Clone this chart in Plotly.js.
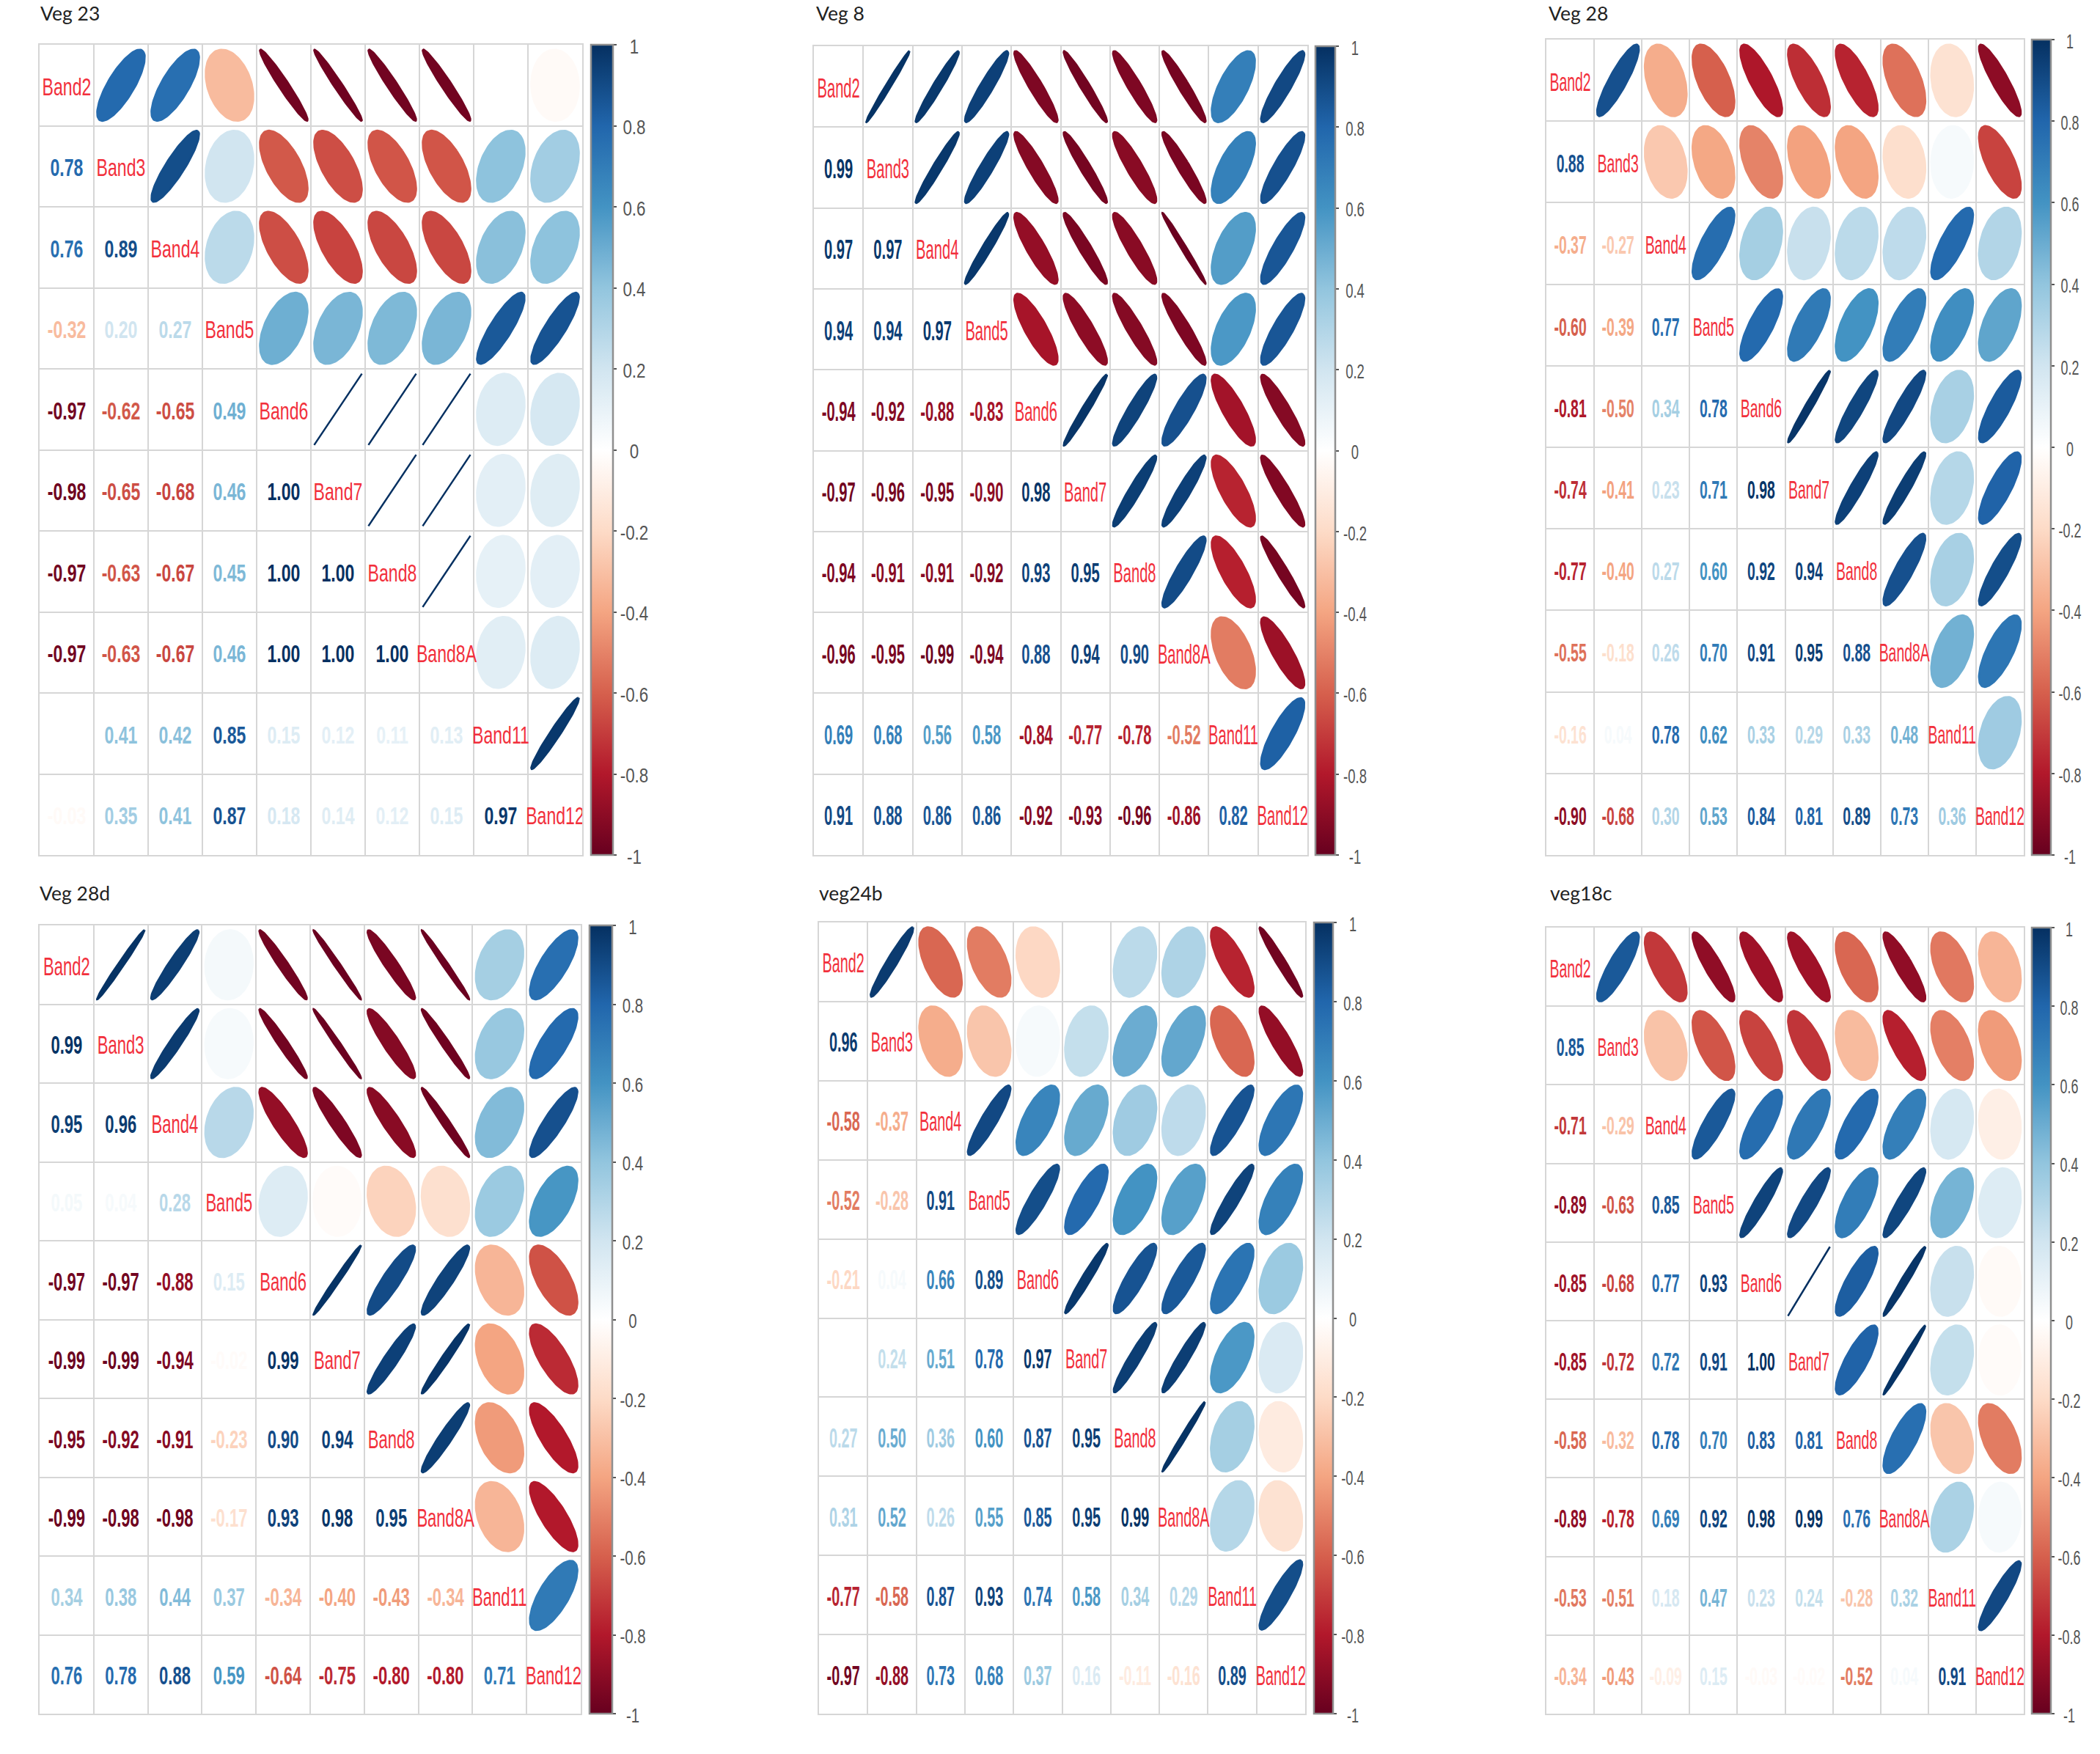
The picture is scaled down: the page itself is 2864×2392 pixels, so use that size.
<!DOCTYPE html>
<html>
<head>
<meta charset="utf-8">
<script src="https://cdn.plot.ly/plotly-3.0.1.min.js"></script>
<style>html,body{margin:0;padding:0;background:#fff}#chart{width:2864px;height:2392px}</style>
</head>
<body>
<div id="chart"></div>
<script>
// ---- data: lower triangle of each correlation matrix
const bands = ["Band2","Band3","Band4","Band5","Band6","Band7","Band8","Band8A","Band11","Band12"];
const veg23 = [
  [0.78],
  [0.76,0.89],
  [-0.32,0.20,0.27],
  [-0.97,-0.62,-0.65,0.49],
  [-0.98,-0.65,-0.68,0.46,1.00],
  [-0.97,-0.63,-0.67,0.45,1.00,1.00],
  [-0.97,-0.63,-0.67,0.46,1.00,1.00,1.00],
  [0.00,0.41,0.42,0.85,0.15,0.12,0.11,0.13],
  [-0.03,0.35,0.41,0.87,0.18,0.14,0.12,0.15,0.97]
];
const veg8 = [
  [0.99],
  [0.97,0.97],
  [0.94,0.94,0.97],
  [-0.94,-0.92,-0.88,-0.83],
  [-0.97,-0.96,-0.95,-0.90,0.98],
  [-0.94,-0.91,-0.91,-0.92,0.93,0.95],
  [-0.96,-0.95,-0.99,-0.94,0.88,0.94,0.90],
  [0.69,0.68,0.56,0.58,-0.84,-0.77,-0.78,-0.52],
  [0.91,0.88,0.86,0.86,-0.92,-0.93,-0.96,-0.86,0.82]
];
const veg28 = [
  [0.88],
  [-0.37,-0.27],
  [-0.60,-0.39,0.77],
  [-0.81,-0.50,0.34,0.78],
  [-0.74,-0.41,0.23,0.71,0.98],
  [-0.77,-0.40,0.27,0.60,0.92,0.94],
  [-0.55,-0.18,0.26,0.70,0.91,0.95,0.88],
  [-0.16,0.04,0.78,0.62,0.33,0.29,0.33,0.48],
  [-0.90,-0.68,0.30,0.53,0.84,0.81,0.89,0.73,0.36]
];
const veg28d = [
  [0.99],
  [0.95,0.96],
  [0.05,0.04,0.28],
  [-0.97,-0.97,-0.88,0.15],
  [-0.99,-0.99,-0.94,-0.02,0.99],
  [-0.95,-0.92,-0.91,-0.23,0.90,0.94],
  [-0.99,-0.98,-0.98,-0.17,0.93,0.98,0.95],
  [0.34,0.38,0.44,0.37,-0.34,-0.40,-0.43,-0.34],
  [0.76,0.78,0.88,0.59,-0.64,-0.75,-0.80,-0.80,0.71]
];
const veg24b = [
  [0.96],
  [-0.58,-0.37],
  [-0.52,-0.28,0.91],
  [-0.21,0.04,0.66,0.89],
  [0.00,0.24,0.51,0.78,0.97],
  [0.27,0.50,0.36,0.60,0.87,0.95],
  [0.31,0.52,0.26,0.55,0.85,0.95,0.99],
  [-0.77,-0.58,0.87,0.93,0.74,0.58,0.34,0.29],
  [-0.97,-0.88,0.73,0.68,0.37,0.16,-0.11,-0.16,0.89]
];
const veg18c = [
  [0.85],
  [-0.71,-0.29],
  [-0.89,-0.63,0.85],
  [-0.85,-0.68,0.77,0.93],
  [-0.85,-0.72,0.72,0.91,1.00],
  [-0.58,-0.32,0.78,0.70,0.83,0.81],
  [-0.89,-0.78,0.69,0.92,0.98,0.99,0.76],
  [-0.53,-0.51,0.18,0.47,0.23,0.24,-0.28,0.32],
  [-0.34,-0.43,-0.09,0.15,-0.03,-0.02,-0.52,0.04,0.91]
];
const titles = ["Veg 23","Veg 8","Veg 28","Veg 28d","veg24b","veg18c"];
const matrices = [veg23,veg8,veg28,veg28d,veg24b,veg18c];
const barTicks = [-1,-0.8,-0.6,-0.4,-0.2,0,0.2,0.4,0.6,0.8,1];
const barTickText = ["-1","-0.8","-0.6","-0.4","-0.2","0","0.2","0.4","0.6","0.8","1"];

// ---- layout of the six panels, in page pixels
const W = 2864, H = 2392;
const frames = [
  {l:54,  r:794,  t:61,   b:1166, bl:806,  bw:30, lab:865,  size:33, sx:0.70, tx:55,   ty:18},
  {l:1110,r:1783, t:63,   b:1166, bl:1794, bw:27, lab:1848, size:36, sx:0.56, tx:1113, ty:18},
  {l:2109,r:2760, t:54,   b:1166, bl:2771, bw:26, lab:2823, size:36, sx:0.54, tx:2112, ty:18},
  {l:54,  r:792,  t:1262, b:2337, bl:804,  bw:31, lab:863,  size:35, sx:0.63, tx:54,   ty:1218},
  {l:1117,r:1780, t:1258, b:2337, bl:1792, bw:26, lab:1845, size:36, sx:0.55, tx:1117, ty:1218},
  {l:2109,r:2760, t:1265, b:2337, bl:2771, bw:26, lab:2822, size:36, sx:0.54, tx:2114, ty:1218}
];

// ---- corrplot RdBu palette
const palette = ["#67001F","#B2182B","#D6604D","#F4A582","#FDDBC7","#FFFFFF","#D1E5F0","#92C5DE","#4393C3","#2166AC","#053061"];
const colorscale = palette.map((c,i)=>[i/(palette.length-1),c]);
function hex(c){return [1,3,5].map(i=>parseInt(c.substr(i,2),16));}
function colorOf(r){
  const t=(r+1)/2*(palette.length-1), i=Math.min(Math.floor(t),palette.length-2), f=t-i;
  const a=hex(palette[i]), b=hex(palette[i+1]);
  return "rgb("+a.map((v,k)=>Math.round(v+(b[k]-v)*f)).join(",")+")";
}
const ELL = 0.88;
function ellipse(r,cx,cy){
  const xs=[],ys=[],d=Math.acos(Math.max(-1,Math.min(1,r)))/2;
  for(let k=0;k<=96;k++){
    const a=k/96*2*Math.PI;
    xs.push(cx+Math.cos(a+d)/2*ELL);
    ys.push(cy-Math.cos(a-d)/2*ELL);
  }
  return {xs,ys};
}

const traces=[], layout={
  width:W,height:H,paper_bgcolor:"#fff",plot_bgcolor:"#fff",showlegend:false,hovermode:false,
  margin:{l:0,r:0,t:0,b:0,pad:0,autoexpand:false},annotations:[]
};
matrices.forEach((m,p)=>{
  const f=frames[p], n=p?String(p+1):"", xa="x"+n, ya="y"+n;
  const axis={showticklabels:false,ticks:"",zeroline:false,tickmode:"linear",tick0:0,dtick:1,
    showgrid:true,gridcolor:"#d6d6d6",gridwidth:2,showline:true,linecolor:"#d6d6d6",linewidth:2,mirror:true,fixedrange:true};
  layout["xaxis"+n]=Object.assign({},axis,{range:[0,10],domain:[f.l/W,f.r/W],anchor:ya});
  layout["yaxis"+n]=Object.assign({},axis,{range:[10,0],domain:[1-f.b/H,1-f.t/H],anchor:xa});
  // upper triangle: ellipses
  m.forEach((row,i)=>row.forEach((r,j)=>{
    const e=ellipse(r,i+1.5,j+0.5), c=colorOf(r);
    traces.push({type:"scatter",mode:"lines",x:e.xs,y:e.ys,xaxis:xa,yaxis:ya,fill:"toself",fillcolor:c,
      line:{color:c,width:2.5},hoverinfo:"skip",showlegend:false});
  }));
  // lower triangle: numbers (carries the colour bar)
  const nx=[],ny=[],nt=[],nc=[],nv=[];
  m.forEach((row,i)=>row.forEach((r,j)=>{
    nx.push(j+0.5);ny.push(i+1.5);nt.push(r.toFixed(2));nc.push(colorOf(r));nv.push(r);
  }));
  traces.push({type:"scatter",mode:"markers+text",x:nx,y:ny,xaxis:xa,yaxis:ya,text:nt,textposition:"middle center",
    textfont:{family:"Liberation Sans",size:f.size,color:nc,weight:700},hoverinfo:"skip",showlegend:false,cliponaxis:false,
    marker:{size:1,opacity:0,color:nv,cmin:-1,cmax:1,colorscale:colorscale,showscale:true,
      colorbar:{x:f.bl/W,xanchor:"left",xpad:0,y:1-f.b/H,yanchor:"bottom",ypad:0,len:f.b-f.t,lenmode:"pixels",
        thickness:f.bw,thicknessmode:"pixels",outlinewidth:2.5,outlinecolor:"#8f8f8f",borderwidth:0,
        tickmode:"array",tickvals:barTicks,ticktext:barTickText,ticks:"outside",ticklen:4,tickwidth:2,tickcolor:"#555",
        tickfont:{family:"Liberation Sans",size:28,color:"#555"}}}});
  // diagonal: band names
  traces.push({type:"scatter",mode:"text",x:bands.map((b,i)=>i+0.5),y:bands.map((b,i)=>i+0.5),xaxis:xa,yaxis:ya,text:bands,
    textposition:"middle center",textfont:{family:"Liberation Sans",size:f.size,color:"#f2303c"},
    hoverinfo:"skip",showlegend:false,cliponaxis:false});
  layout.annotations.push({text:titles[p],xref:"paper",yref:"paper",x:f.tx/W,y:1-f.ty/H,xanchor:"left",yanchor:"middle",
    showarrow:false,font:{family:"Lato",size:26.5,color:"#222"},xshift:-2});
});

Plotly.newPlot("chart",traces,layout,{displayModeBar:false,staticPlot:true}).then(gd=>{
  // the source picture is a stretched raster: narrow its glyphs the same way, keeping them real text
  const squeeze=(el,sx,dx,dy)=>{
    const b=el.getBBox(), cx=b.x+b.width/2, cy=b.y+b.height/2, old=el.getAttribute("transform")||"";
    el.setAttribute("transform",`translate(${dx||0},${dy||0}) ${old} translate(${cx},${cy}) scale(${sx},1) translate(${-cx},${-cy})`);
  };
  gd.querySelectorAll(".textpoint text").forEach(el=>{
    const q=el.getBoundingClientRect(), x=q.left+q.width/2;
    const f=frames.find(fr=>x>fr.l-40&&x<fr.r+40&&q.top>fr.t-10&&q.bottom<fr.b+10);
    if(f) squeeze(el,f.sx,0,5.5);
  });
  gd.querySelectorAll("g.colorbar").forEach(g=>{
    g.querySelectorAll(".ytick text, .cbaxis text").forEach(el=>{
      if(el.dataset.done) return; el.dataset.done=1;
      const q=el.getBoundingClientRect(), x=q.left+q.width/2, y=q.top+q.height/2;
      const f=frames.find(fr=>x>fr.bl&&x<fr.bl+120&&y>fr.t-30&&y<fr.b+30);
      if(f) squeeze(el,f.sx+0.1,f.lab-x,2);
    });
  });
});
</script>
</body>
</html>
